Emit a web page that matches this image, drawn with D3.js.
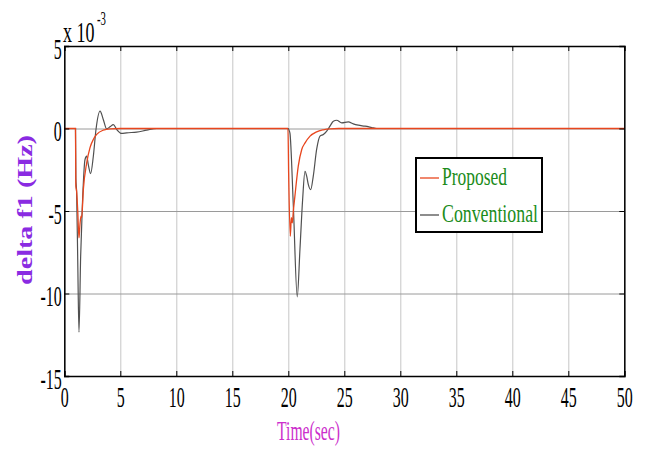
<!DOCTYPE html>
<html>
<head>
<meta charset="utf-8">
<script src="https://cdn.jsdelivr.net/npm/d3@7"></script>
<style>
  body { margin: 0; background: #fff; }
  .chart { width: 647px; height: 450px; }
  text { font-family: "Liberation Serif", "Times New Roman", serif; }
</style>
</head>
<body>
<div class="chart"></div>
<script>
//Tick values on both axes
const xTicks = [0, 5, 10, 15, 20, 25, 30, 35, 40, 45, 50];
const yTicks = [5, 0, -5, -10, -15];

//Proposed controller response (units of 1e-3 Hz)
const proposedTime = [0, 1.0, 1.03, 1.1, 1.2, 1.31, 1.4, 1.49, 1.55, 1.7, 2.0, 2.29, 2.59, 2.89, 3.48, 4.1, 5,
  19.97, 20.03, 20.18, 20.27, 20.36, 20.45, 20.59, 20.89, 21.2, 21.5, 21.94, 22.53, 23.13, 23.72, 24.5, 50];
const proposedValue = [0, 0, -3.5, -3.8, -5.0, -6.63, -5.8, -5.31, -5.4, -3.7, -2.08, -1.17, -0.67, -0.36, -0.1, -0.02, 0,
  0, -2.7, -6.53, -5.41, -5.72, -5.0, -4.1, -2.28, -1.27, -0.87, -0.46, -0.2, -0.08, -0.02, 0, 0];

//Conventional controller response (units of 1e-3 Hz)
const conventionalTime = [0, 1.0, 1.03, 1.1, 1.2, 1.31, 1.46, 1.61, 1.85, 2.0, 2.14, 2.35, 2.59, 2.83, 3.19, 3.48, 3.78,
  4.08, 4.38, 4.68, 5.12, 5.57, 6.46, 7.36, 8.25,
  20.0, 20.06, 20.15, 20.45, 20.8, 21.04, 21.28, 21.49, 21.64, 21.79, 22.0, 22.23, 22.53, 22.83, 23.13, 23.43,
  23.72, 24.02, 24.32, 24.77, 25.36, 25.8, 26.25, 26.85, 27.45, 27.89, 50];
const conventionalValue = [0, 0, -3.0, -3.9, -8.0, -12.34, -7.74, -4.71, -1.88, -1.68, -2.18, -2.73, -1.7, -0.06, 1.05, 0.55, -0.02,
  0.1, 0.24, -0.06, -0.3, -0.26, -0.22, -0.1, 0,
  0, -0.1, -0.3, -4.7, -10.2, -7.33, -4.3, -2.59, -2.89, -3.4, -3.7, -2.89, -1.27, -0.46, -0.36, -0.16,
  0.14, 0.44, 0.5, 0.34, 0.4, 0.28, 0.2, 0.14, 0.06, 0, 0];

const seriesNames = ["Proposed", "Conventional"];
const seriesColors = ["#e8461e", "#505050"];

let chart = {};

function init() {
  chart.margin = { top: 46, right: 22.7, bottom: 74, left: 64.3 };
  chart.width = 647 - chart.margin.left - chart.margin.right;
  chart.height = 450 - chart.margin.top - chart.margin.bottom;

  chart.x = d3.scaleLinear().domain([0, 50]).range([0, chart.width]);
  chart.y = d3.scaleLinear().domain([-15, 5]).range([chart.height, 0]);

  chart.svg = d3.select(".chart").append("svg")
    .attr("width", 647)
    .attr("height", 450);

  chart.plot = chart.svg.append("g")
    .attr("transform", `translate(${chart.margin.left},${chart.margin.top})`);

  drawGrid();
  drawLines();
  drawAxes();
  drawLabels();
  drawLegend();
}

function drawGrid() {
  chart.plot.append("g")
    .attr("transform", `translate(0,${chart.height})`)
    .call(d3.axisBottom(chart.x).tickValues(xTicks).tickSize(-chart.height).tickFormat(""))
    .call(g => g.select(".domain").remove())
    .selectAll("line").attr("stroke", "#c6c6c6");

  chart.plot.append("g")
    .call(d3.axisLeft(chart.y).tickValues(yTicks).tickSize(-chart.width).tickFormat(""))
    .call(g => g.select(".domain").remove())
    .selectAll("line").attr("stroke", "#9a9a9a");
}

function drawLines() {
  const line = d3.line()
    .x(d => chart.x(d[0]))
    .y(d => chart.y(d[1]))
    .curve(d3.curveMonotoneX);

  const conventional = d3.zip(conventionalTime, conventionalValue);
  const proposed = d3.zip(proposedTime, proposedValue);

  chart.plot.append("path")
    .datum(conventional)
    .attr("fill", "none")
    .attr("stroke", seriesColors[1])
    .attr("stroke-width", 1.2)
    .attr("d", line);

  chart.plot.append("path")
    .datum(proposed)
    .attr("fill", "none")
    .attr("stroke", seriesColors[0])
    .attr("stroke-width", 1.3)
    .attr("d", line);
}

function drawAxes() {
  const sx = 0.55;
  const fmt = d => String(d); // plain hyphen minus like the original

  let bottom = chart.plot.append("g")
    .attr("transform", `translate(0,${chart.height})`)
    .call(d3.axisBottom(chart.x).tickValues(xTicks).tickSize(-5).tickFormat(fmt));
  bottom.selectAll("text")
    .attr("y", 10).attr("dy", "0.71em")
    .attr("transform", `scale(${sx},1)`)
    .style("font-size", "29px").attr("fill", "#000");

  let left = chart.plot.append("g")
    .call(d3.axisLeft(chart.y).tickValues(yTicks).tickSize(-5).tickFormat(fmt));
  left.selectAll("text")
    .attr("x", -2.5 / sx).attr("dy", "0.42em")
    .attr("transform", `scale(${sx},1)`)
    .style("font-size", "29px").attr("fill", "#000");

  chart.plot.append("g")
    .call(d3.axisTop(chart.x).tickValues(xTicks).tickSize(-5).tickFormat(""));
  chart.plot.append("g")
    .attr("transform", `translate(${chart.width},0)`)
    .call(d3.axisRight(chart.y).tickValues(yTicks).tickSize(-5).tickFormat(""));

  chart.plot.selectAll(".domain").attr("stroke", "#000").attr("stroke-width", 1.5);
}

function drawLabels() {
  //multiplier above the y axis, squeezed like the other numbers
  chart.svg.append("text")
    .attr("transform", "translate(63,42) scale(0.62,1)")
    .style("font-size", "29px")
    .text("x 10");
  chart.svg.append("text")
    .attr("transform", "translate(97,25) scale(0.6,1)")
    .style("font-size", "18px")
    .text("-3");

  chart.svg.append("text")
    .attr("transform", "translate(32,285) rotate(-90)")
    .style("font-size", "21px").style("font-weight", "bold")
    .attr("fill", "#8a2be2")
    .attr("textLength", 150).attr("lengthAdjust", "spacingAndGlyphs")
    .text("delta f1 (Hz)");

  chart.svg.append("text")
    .attr("x", 277).attr("y", 440)
    .style("font-size", "27px")
    .attr("fill", "#cc2fcc")
    .attr("textLength", 63).attr("lengthAdjust", "spacingAndGlyphs")
    .text("Time(sec)");
}

function drawLegend() {
  let lg = chart.svg.append("g").attr("transform", "translate(416,158)");
  lg.append("rect")
    .attr("width", 126).attr("height", 74)
    .attr("fill", "#fff").attr("stroke", "#000").attr("stroke-width", 2);

  const rows = [20, 57];
  const widths = [65, 96];
  seriesNames.forEach((name, i) => {
    lg.append("line")
      .attr("x1", 4).attr("x2", 23)
      .attr("y1", rows[i]).attr("y2", rows[i])
      .attr("stroke", seriesColors[i]).attr("stroke-width", 1.3);
    lg.append("text")
      .attr("x", 26).attr("y", rows[i] + 7)
      .style("font-size", "25px")
      .attr("fill", "#1b8c1b")
      .attr("textLength", widths[i]).attr("lengthAdjust", "spacingAndGlyphs")
      .text(name);
  });
}

init();
</script>
</body>
</html>
